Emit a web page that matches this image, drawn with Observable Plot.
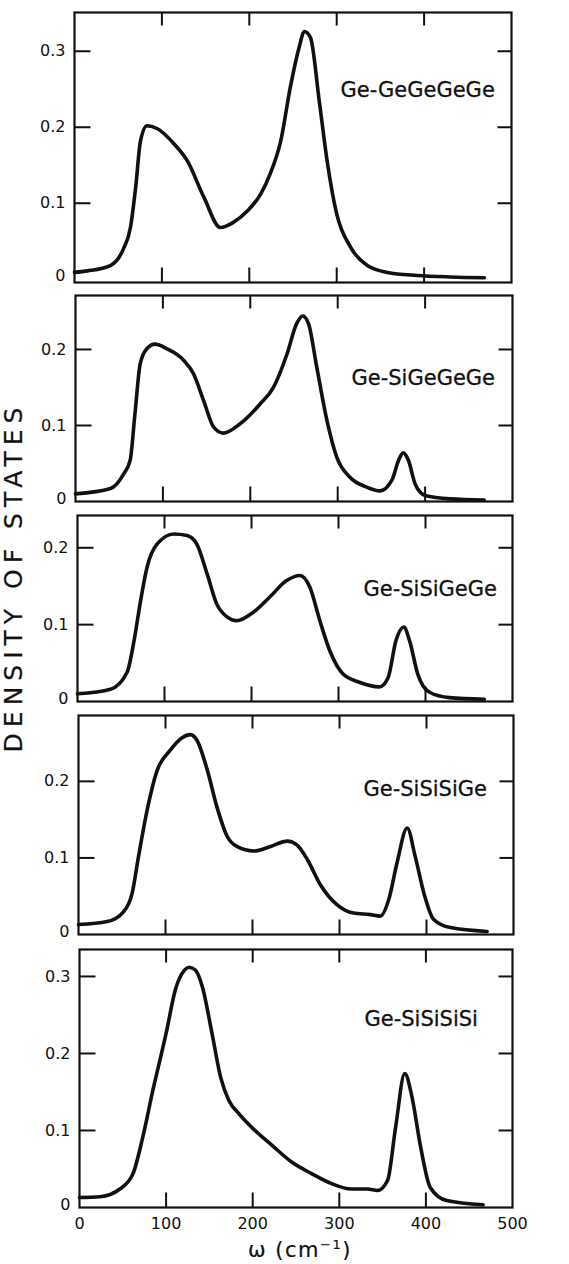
<!DOCTYPE html>
<html><head><meta charset="utf-8">
<script src="https://cdn.jsdelivr.net/npm/d3@7"></script>
<script src="https://cdn.jsdelivr.net/npm/@observablehq/plot@0.6"></script>
<style>
body{margin:0;background:#fff;}
#wrap{position:relative;width:569px;height:1264px;font-family:"DejaVu Sans",sans-serif;color:#111;overflow:hidden;}
#wrap svg{position:absolute;left:0;}
#ytitle{position:absolute;left:13px;top:577px;transform:translate(-50%,-50%) rotate(-90deg);white-space:nowrap;font-size:25px;letter-spacing:6px;-webkit-text-stroke:0.2px #111;}
#xtitle{position:absolute;left:300px;top:1249px;transform:translate(-50%,-50%);white-space:nowrap;font-size:21px;letter-spacing:1.5px;-webkit-text-stroke:0.2px #111;}
#xtitle sup{font-size:13px;}
</style></head>
<body><div id="wrap"><div id="ytitle">DENSITY OF STATES</div><div id="xtitle">ω (cm<sup>−1</sup>)</div></div>
<script>
// ---- data ----
const panelLabels = ["Ge-GeGeGeGe", "Ge-SiGeGeGe", "Ge-SiSiGeGe", "Ge-SiSiSiGe", "Ge-SiSiSiSi"];

const omega1 = [0, 15, 41, 56, 64, 70, 75.5, 83, 95, 114, 129, 148, 167, 182, 198, 213, 224, 236, 247, 257, 263, 270, 280, 289, 300, 316, 335, 358, 392, 430, 469];
const dos1   = [0.009, 0.011, 0.018, 0.040, 0.068, 0.121, 0.182, 0.202, 0.198, 0.178, 0.156, 0.108, 0.068, 0.075, 0.090, 0.112, 0.139, 0.182, 0.253, 0.305, 0.326, 0.318, 0.235, 0.156, 0.086, 0.042, 0.018, 0.009, 0.005, 0.003, 0.002];

const omega2 = [0, 40, 55, 62.5, 68, 74, 81.6, 91, 104.5, 123.6, 135, 146.5, 158, 169, 188, 211, 226.5, 242, 253, 260, 266.6, 276, 287.6, 299, 314, 333, 348.6, 362, 369.6, 375, 381, 388.6, 400, 428.7, 467.6];
const dos2   = [0.010, 0.017, 0.036, 0.054, 0.115, 0.181, 0.201, 0.207, 0.201, 0.186, 0.168, 0.133, 0.098, 0.090, 0.102, 0.128, 0.150, 0.194, 0.234, 0.244, 0.234, 0.177, 0.107, 0.058, 0.032, 0.019, 0.014, 0.028, 0.054, 0.064, 0.054, 0.023, 0.008, 0.0035, 0.002];

const omega3 = [0, 38, 57, 65, 72.5, 80, 91.6, 110.7, 126, 137, 149, 160, 171.8, 183, 202, 221, 240, 255.7, 267, 278.6, 290, 305, 324, 347, 357, 366, 375, 381.7, 391, 404.6, 427.5, 467.6];
const dos3   = [0.010, 0.016, 0.038, 0.079, 0.131, 0.175, 0.205, 0.218, 0.216, 0.205, 0.166, 0.127, 0.110, 0.105, 0.116, 0.136, 0.157, 0.164, 0.149, 0.105, 0.066, 0.036, 0.025, 0.019, 0.031, 0.079, 0.097, 0.079, 0.036, 0.012, 0.005, 0.003];

const omega4 = [0, 33, 52, 61.7, 69, 79, 90, 105.7, 119, 128.7, 136, 148, 159, 171, 182, 201.5, 220.7, 240, 251, 263, 278, 297, 316, 335.6, 347, 356.7, 366, 377.8, 387, 397, 408, 427.6, 469.7];
const dos4   = [0.013, 0.017, 0.030, 0.054, 0.102, 0.163, 0.213, 0.241, 0.257, 0.261, 0.254, 0.215, 0.167, 0.128, 0.115, 0.109, 0.115, 0.122, 0.117, 0.098, 0.065, 0.039, 0.028, 0.026, 0.024, 0.046, 0.093, 0.139, 0.102, 0.054, 0.020, 0.009, 0.004];

const omega5 = [0, 23.7, 46.6, 61.8, 73, 84.7, 100, 111, 121, 126.7, 134, 142, 153, 163, 172.5, 184, 199, 222, 245, 268, 291, 313.7, 332.8, 344, 355.7, 365, 375.6, 384, 394, 405, 424, 466];
const dos5   = [0.013, 0.014, 0.024, 0.044, 0.091, 0.152, 0.226, 0.284, 0.308, 0.312, 0.308, 0.286, 0.226, 0.169, 0.139, 0.122, 0.104, 0.081, 0.059, 0.044, 0.031, 0.024, 0.024, 0.022, 0.035, 0.104, 0.174, 0.143, 0.078, 0.026, 0.009, 0.0035];

const xTickLabels = [0, 100, 200, 300, 400, 500];
const xInnerTicks = [100, 200, 300, 400];
const yTicks = [[0.1, 0.2, 0.3], [0.1, 0.2], [0.1, 0.2], [0.1, 0.2], [0.1, 0.2, 0.3]];
const yZeroTick = [0];

// ---- layout ----
const layout = [
  {top: 12,  bottom: 282,  left: 74, right: 511, ydom: [-0.0043, 0.351], lx: 266, ly: 70},
  {top: 295, bottom: 501,  left: 75, right: 512, ydom: [0, 0.271],       lx: 276, ly: 75},
  {top: 515, bottom: 701,  left: 77, right: 512, ydom: [0, 0.242],       lx: 286, ly: 66},
  {top: 715, bottom: 934,  left: 78, right: 513, ydom: [0, 0.286],       lx: 285, ly: 66},
  {top: 949, bottom: 1207, left: 79, right: 512, ydom: [0, 0.335],       lx: 285, ly: 62}
];
const series = [[omega1, dos1], [omega2, dos2], [omega3, dos3], [omega4, dos4], [omega5, dos5]];
const XDOM = [0, 500];

const wrap = document.getElementById("wrap");
const W = 569;
const txt = {fontSize: 16, fill: "#111", stroke: "#111", strokeWidth: 0.35, letterSpacing: 1};
layout.forEach((f, i) => {
  const [om, ds] = series[i];
  const data = om.map((w, k) => ({w, d: ds[k]}));
  const last = i === layout.length - 1;
  const mt = 4, mb = last ? 40 : 4;
  const fh = f.bottom - f.top, fw = f.right - f.left;
  const h = fh + mt + mb;
  const fmt = d => d === 0 ? "0" : d3.format(".1f")(d);

  // inward tick segments, built from the tick values; lengths converted from pixels to scale units
  const [ylo, yhi] = f.ydom, yspan = yhi - ylo, xspan = XDOM[1] - XDOM[0];
  const dyB = yspan * 15 / fh, dyT = yspan * 13 / fh;
  const dxL = xspan * 16 / fw, dxR = xspan * 14 / fw;
  const tickRows = [];
  xInnerTicks.forEach(v => {
    tickRows.push({tx: v, ty: ylo, k: "b" + v}, {tx: v, ty: ylo + dyB, k: "b" + v});
    tickRows.push({tx: v, ty: yhi - dyT, k: "t" + v}, {tx: v, ty: yhi, k: "t" + v});
  });
  yTicks[i].forEach(v => {
    tickRows.push({tx: XDOM[0], ty: v, k: "l" + v}, {tx: XDOM[0] + dxL, ty: v, k: "l" + v});
    tickRows.push({tx: XDOM[1] - dxR, ty: v, k: "r" + v}, {tx: XDOM[1], ty: v, k: "r" + v});
  });

  const chart = Plot.plot({
    width: W, height: h,
    marginTop: mt, marginBottom: mb, marginLeft: f.left, marginRight: W - f.right,
    x: {domain: XDOM},
    y: {domain: f.ydom},
    axis: null,
    style: {fontFamily: "'DejaVu Sans', sans-serif", fontSize: "16px", color: "#111", background: "transparent", overflow: "visible"},
    marks: [
      Plot.frame({stroke: "#111", strokeWidth: 2.2, fill: "none"}),
      Plot.line(tickRows, {x: "tx", y: "ty", z: "k", stroke: "#111", strokeWidth: 2, strokeLinecap: "butt"}),
      Plot.axisY(yTicks[i], {anchor: "left", tickSize: 0, tickPadding: 9, tickFormat: fmt, label: null, ...txt}),
      Plot.axisY(yZeroTick, {anchor: "left", tickSize: 0, tickPadding: 9, tickFormat: fmt, label: null, dy: -3, ...txt}),
      last ? Plot.axisX(xTickLabels, {anchor: "bottom", tickSize: 0, tickPadding: 10, label: null, ...txt}) : null,
      Plot.line(data, {x: "w", y: "d", curve: "monotone-x", strokeWidth: 3.6, stroke: "#111", strokeLinejoin: "round"}),
      Plot.text([panelLabels[i]], {frameAnchor: "top-left", dx: f.lx, dy: f.ly, textAnchor: "start", fontSize: 21, letterSpacing: 1, fill: "#111", stroke: "#111", strokeWidth: 0.3, text: d => d})
    ]
  });
  chart.style.top = (f.top - mt) + "px";
  wrap.appendChild(chart);
});
</script>
</body></html>
